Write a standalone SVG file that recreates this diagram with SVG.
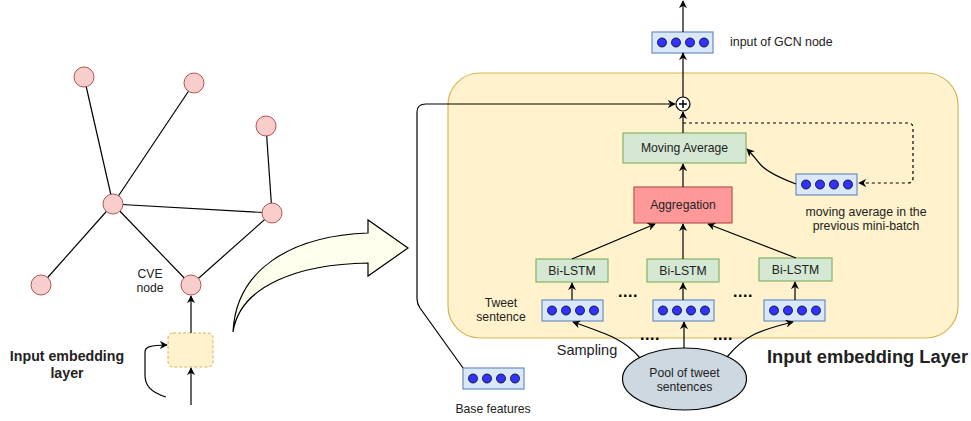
<svg xmlns="http://www.w3.org/2000/svg" width="971" height="421" viewBox="0 0 971 421">
<defs>
<marker id="ah" viewBox="0 0 10 10" refX="9" refY="5" markerWidth="8" markerHeight="8" orient="auto" markerUnits="userSpaceOnUse">
<path d="M0,0 L10,5 L0,10 L3,5 Z" fill="#000"/>
</marker>
<style>
text{font-family:"Liberation Sans",Arial,sans-serif;fill:#222;}
.gn{fill:#f8cecc;stroke:#b85450;stroke-width:1;}
.e{stroke:#000;stroke-width:1.2;fill:none;}
.c{stroke:#000;stroke-width:1.2;fill:none;marker-end:url(#ah);}
.vec{fill:#dae8fc;stroke:#6c8ebf;stroke-width:1.2;}
.dot{fill:#3333ff;stroke:#000;stroke-width:0.8;}
.grn{fill:#d5e8d4;stroke:#82b366;stroke-width:1.2;}
.t12{font-size:12.2px;text-anchor:middle;}
.t11{font-size:12.3px;text-anchor:middle;}
.dots{font-size:16px;font-weight:bold;text-anchor:middle;fill:#000;}
</style>
<g id="v">
<rect class="vec" x="0" y="0" width="61" height="21"/>
<circle class="dot" cx="10" cy="10.5" r="4.5"/>
<circle class="dot" cx="24" cy="10.5" r="4.5"/>
<circle class="dot" cx="38" cy="10.5" r="4.5"/>
<circle class="dot" cx="52" cy="10.5" r="4.5"/>
</g>
</defs>
<rect width="971" height="421" fill="#fff"/>

<g id="container">
<rect x="448" y="73" width="510" height="265" rx="32" ry="32" fill="#fff2cc" stroke="#d6b656" stroke-width="1.2"/>
</g>

<g id="graph-edges">
<line class="e" x1="84" y1="77" x2="113" y2="204"/>
<line class="e" x1="194" y1="83" x2="113" y2="204"/>
<line class="e" x1="266" y1="126" x2="272" y2="213"/>
<line class="e" x1="113" y1="204" x2="272" y2="213"/>
<line class="e" x1="113" y1="204" x2="41" y2="285"/>
<line class="e" x1="113" y1="204" x2="191" y2="285"/>
<line class="e" x1="272" y1="213" x2="191" y2="285"/>
</g>
<g id="graph-nodes">
<circle class="gn" cx="84" cy="77" r="10"/>
<circle class="gn" cx="194" cy="83" r="10"/>
<circle class="gn" cx="266" cy="126" r="10"/>
<circle class="gn" cx="113" cy="204" r="10"/>
<circle class="gn" cx="272" cy="213" r="10"/>
<circle class="gn" cx="41" cy="285" r="10"/>
<circle class="gn" cx="191" cy="285" r="10"/>
</g>
<g id="cve-label">
<text class="t12" x="150" y="278">CVE</text>
<text class="t12" x="150" y="292">node</text>
</g>
<g id="embed-box">
<rect x="168" y="333" width="45" height="34" rx="5" fill="#fff2cc" stroke="#d6b656" stroke-dasharray="3 2"/>
</g>
<g id="embed-label">
<text x="67" y="361" font-size="14.2" font-weight="bold" text-anchor="middle" fill="#000">Input embedding</text>
<text x="67" y="378" font-size="14.2" font-weight="bold" text-anchor="middle" fill="#000">layer</text>
</g>

<g id="big-arrow">
<path d="M233,332 C236,270 290,236 368,233 L368,220 L408,248 L368,276 L368,263 C300,264 240,285 233,332 Z" fill="#ffffee" stroke="#000" stroke-width="1.2" stroke-linejoin="miter"/>
</g>

<g id="top-vec"><use href="#v" x="652" y="32"/></g>
<g id="top-vec-label"><text x="730" y="46" font-size="12.4" fill="#222">input of GCN node</text></g>

<g id="plus">
<circle cx="683" cy="104" r="7" fill="#fff" stroke="#000" stroke-width="1.2"/>
<path d="M679,104 H687 M683,100 V108" stroke="#000" stroke-width="1.5"/>
</g>

<g id="moving-average">
<rect class="grn" x="623" y="133" width="123" height="30"/>
<text class="t12" x="684.5" y="152">Moving Average</text>
</g>
<g id="aggregation">
<rect x="634" y="187" width="98" height="36" fill="#ff9999" stroke="#b85450" stroke-width="1.2"/>
<text class="t12" x="683" y="209">Aggregation</text>
</g>
<g id="ma-vec"><use href="#v" x="796" y="174"/></g>
<g id="ma-vec-label">
<text class="t11" x="866" y="216">moving average in the</text>
<text class="t11" x="866" y="230">previous mini-batch</text>
</g>

<g id="lstm1"><rect class="grn" x="536" y="259" width="72" height="23"/><text class="t12" x="572" y="275">Bi-LSTM</text></g>
<g id="lstm2"><rect class="grn" x="647" y="259" width="72" height="23"/><text class="t12" x="683" y="275">Bi-LSTM</text></g>
<g id="lstm3"><rect class="grn" x="759" y="258" width="73" height="23"/><text class="t12" x="795.5" y="274">Bi-LSTM</text></g>

<g id="tv1"><use href="#v" x="542" y="300"/></g>
<g id="tv2"><use href="#v" x="653" y="300"/></g>
<g id="tv3"><use href="#v" x="764" y="300"/></g>

<g id="tweet-label">
<text class="t12" x="501" y="307">Tweet</text>
<text class="t12" x="501" y="321">sentence</text>
</g>
<g id="dots">
<text class="dots" x="628" y="297" letter-spacing="0.5">....</text>
<text class="dots" x="743" y="297" letter-spacing="0.5">....</text>
<text class="dots" x="650" y="340" letter-spacing="0.5">....</text>
<text class="dots" x="723" y="340" letter-spacing="0.5">....</text>
</g>
<g id="sampling"><text x="587" y="355" font-size="14.5" text-anchor="middle" fill="#222">Sampling</text></g>

<g id="pool">
<ellipse cx="684.5" cy="379" rx="62" ry="31" fill="#cdd8e0" stroke="#000" stroke-width="1.2"/>
<text class="t12" x="684.5" y="377">Pool of tweet</text>
<text class="t12" x="684.5" y="391">sentences</text>
</g>

<g id="base-vec"><use href="#v" x="463" y="368"/></g>
<g id="base-label"><text class="t12" x="493" y="413">Base features</text></g>

<g id="layer-label"><text x="767" y="363" font-size="18.3" font-weight="bold" fill="#111">Input embedding Layer</text></g>

<g id="connectors">
<line class="c" x1="191" y1="333" x2="191" y2="296"/>
<line class="c" x1="191" y1="405" x2="191" y2="368"/>
<path class="c" d="M166,397 C150,392 145,385 145,375 L145,352 C145,347 150,345 167,345"/>
<line class="c" x1="683" y1="32" x2="683" y2="1"/>
<line class="c" x1="683" y1="97" x2="683" y2="53"/>
<path class="c" d="M463,368 L420,308 C418,305 417,303 417,299 L417,112 C417,107 420,104 426,104 L675,104"/>
<line class="c" x1="683" y1="133" x2="683" y2="112"/>
<line class="c" x1="683" y1="187" x2="683" y2="164"/>
<path d="M683,123 H908 Q913,123 913,128 V178 Q913,183 908,183 H859" fill="none" stroke="#000" stroke-width="1.2" stroke-dasharray="3 3" marker-end="url(#ah)"/>
<path class="c" d="M796,184 C775,176 765,170 760,164 C755,158 752,154 747,149"/>
<line class="c" x1="572" y1="259" x2="655" y2="224"/>
<line class="c" x1="683" y1="259" x2="683" y2="224"/>
<line class="c" x1="796" y1="258" x2="708" y2="224"/>
<line class="c" x1="572" y1="300" x2="572" y2="283"/>
<line class="c" x1="683" y1="300" x2="683" y2="283"/>
<line class="c" x1="795" y1="300" x2="795" y2="282"/>
<path class="c" d="M640,358 C625,340 610,335 573,322"/>
<line class="c" x1="684" y1="348" x2="684" y2="322"/>
<path class="c" d="M727,357 C745,335 760,330 793,322"/>
</g>
</svg>
